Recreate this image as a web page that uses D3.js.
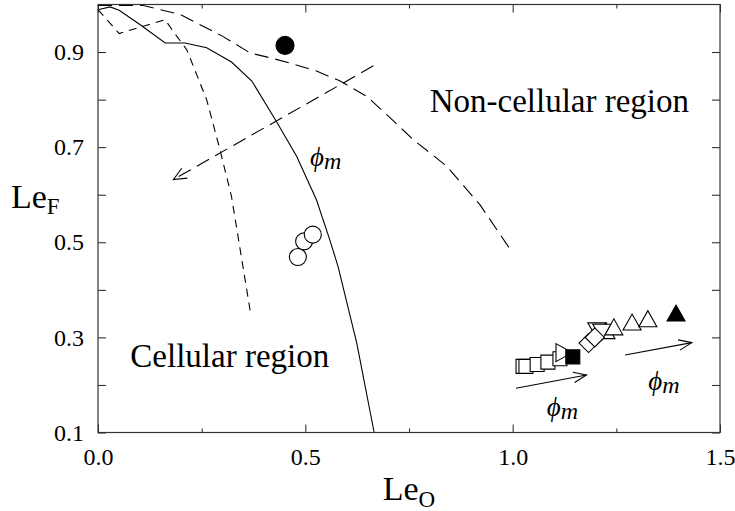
<!DOCTYPE html>
<html>
<head>
<meta charset="utf-8">
<script src="https://cdn.jsdelivr.net/npm/d3@7"></script>
<style>
  body { margin: 0; background: #fff; }
  svg { display: block; }
  text { font-family: "Liberation Serif", "Times New Roman", serif; fill: #000; }
</style>
</head>
<body>
<svg id="chart" width="735" height="511"></svg>
<script>
// ---- Phase-boundary curves (Le_O, Le_F) ----
const boundarySolid = [
  [0.0, 0.989], [0.029, 0.995], [0.051, 0.988], [0.101, 0.958], [0.162, 0.919],
  [0.21, 0.919], [0.262, 0.909], [0.322, 0.879], [0.371, 0.839], [0.431, 0.753],
  [0.479, 0.681], [0.527, 0.589], [0.559, 0.505], [0.579, 0.449], [0.624, 0.288],
  [0.666, 0.1]
];
const boundaryLongDash = [
  [0.0, 0.998], [0.109, 0.998], [0.198, 0.979], [0.301, 0.933], [0.367, 0.898],
  [0.415, 0.888], [0.463, 0.877], [0.527, 0.86], [0.584, 0.839], [0.648, 0.807],
  [0.704, 0.762], [0.76, 0.716], [0.841, 0.66], [0.921, 0.579], [0.998, 0.48]
];
const boundaryShortDash = [
  [0.0, 0.989], [0.051, 0.939], [0.162, 0.968], [0.181, 0.944], [0.214, 0.905],
  [0.262, 0.8], [0.294, 0.695], [0.322, 0.596], [0.369, 0.345]
];

// ---- Simulation points ----
const circlesFilled = [[0.451, 0.914]];
const circlesOpen = [[0.482, 0.469], [0.497, 0.502], [0.518, 0.516]];
const squaresOpen = [[1.025, 0.239], [1.032, 0.239], [1.059, 0.243], [1.085, 0.248], [1.114, 0.255]];
const trianglesRightOpen = [[1.119, 0.268]];
const squaresFilled = [[1.145, 0.259]];
const trianglesDownOpen = [[1.203, 0.318], [1.215, 0.315]];
const diamondsOpen = [[1.183, 0.288], [1.198, 0.300]];
const trianglesUpOpen = [[1.225, 0.31], [1.244, 0.318], [1.288, 0.328], [1.326, 0.335]];
const trianglesUpFilled = [[1.394, 0.347]];

// ---- Arrows showing increasing phi_m: [from, to] ----
const arrowDashed = [[0.664, 0.871], [0.182, 0.632]];
const arrowsSolid = [
  [[1.008, 0.193], [1.178, 0.221]],
  [[1.271, 0.263], [1.432, 0.289]]
];

// ---- Annotations ----
const phiLabels = [[0.511, 0.661], [1.082, 0.135], [1.327, 0.189]];
const regionLabels = [
  { text: "Non-cellular region", pos: [0.8, 0.775] },
  { text: "Cellular region", pos: [0.078, 0.237] }
];

// ---- Ticks ----
const xTicksMajor = [0.0, 0.5, 1.0, 1.5];
const xTicksMinor = [0.25, 0.75, 1.25];
const yTicksAll = [0.1, 0.2, 0.3, 0.4, 0.5, 0.6, 0.7, 0.8, 0.9];
const yTickLabels = [0.1, 0.3, 0.5, 0.7, 0.9];

const svg = d3.select("#chart");
const W = 735, H = 511;
const margin = { left: 98, right: 15, top: 4.5, bottom: 78.5 };
const x = d3.scaleLinear().domain([0, 1.5]).range([margin.left, W - margin.right]);
const y = d3.scaleLinear().domain([0.1, 1.0]).range([H - margin.bottom, margin.top]);

svg.append("clipPath").attr("id", "plot-clip")
  .append("rect")
  .attr("x", x(0)).attr("y", y(1.0))
  .attr("width", x(1.5) - x(0)).attr("height", y(0.1) - y(1.0));

// ---- Axes (inward ticks on all four sides) ----
const fmt = d3.format(".1f");
function styleAxis(g) {
  g.select(".domain").remove();
  g.selectAll(".tick line").attr("stroke", "#222").attr("stroke-width", 1);
  g.selectAll(".tick text").style("font-size", "24px").style("font-family", "Liberation Serif, serif").attr("fill", "#000");
}
svg.append("g").attr("transform", `translate(0,${y(0.1)})`)
  .call(d3.axisBottom(x).tickValues(xTicksMajor).tickSizeInner(-8).tickSizeOuter(0).tickPadding(15).tickFormat(fmt))
  .call(styleAxis);
svg.append("g").attr("transform", `translate(0,${y(0.1)})`)
  .call(d3.axisBottom(x).tickValues(xTicksMinor).tickSizeInner(-4).tickSizeOuter(0).tickFormat(""))
  .call(styleAxis);
svg.append("g").attr("transform", `translate(0,${y(1.0)})`)
  .call(d3.axisTop(x).tickValues(xTicksMajor).tickSizeInner(-8).tickSizeOuter(0).tickFormat(""))
  .call(styleAxis);
svg.append("g").attr("transform", `translate(0,${y(1.0)})`)
  .call(d3.axisTop(x).tickValues(xTicksMinor).tickSizeInner(-4).tickSizeOuter(0).tickFormat(""))
  .call(styleAxis);
svg.append("g").attr("transform", `translate(${x(0)},0)`)
  .call(d3.axisLeft(y).tickValues(yTicksAll).tickSizeInner(-8).tickSizeOuter(0).tickPadding(14)
    .tickFormat(d => yTickLabels.some(v => Math.abs(v - d) < 1e-9) ? fmt(d) : ""))
  .call(styleAxis);
svg.append("g").attr("transform", `translate(${x(1.5)},0)`)
  .call(d3.axisRight(y).tickValues(yTicksAll).tickSizeInner(-8).tickSizeOuter(0).tickFormat(""))
  .call(styleAxis);

// ---- Axis titles ----
const xTitle = svg.append("text").attr("x", (x(0) + x(1.5)) / 2).attr("y", 500)
  .attr("text-anchor", "middle").style("font-size", "34px");
xTitle.append("tspan").text("Le");
xTitle.append("tspan").attr("dy", 7).style("font-size", "23px").text("O");

const yTitle = svg.append("text").attr("x", 11).attr("y", 208)
  .attr("text-anchor", "start").style("font-size", "34px");
yTitle.append("tspan").text("Le");
yTitle.append("tspan").attr("dy", 6).style("font-size", "23px").text("F");

// ---- Curves ----
const line = d3.line().x(d => x(d[0])).y(d => y(d[1]));
const plot = svg.append("g").attr("clip-path", "url(#plot-clip)");
plot.append("path").datum(boundarySolid).attr("d", line)
  .attr("fill", "none").attr("stroke", "#000").attr("stroke-width", 1.1);
plot.append("path").datum(boundaryLongDash).attr("d", line)
  .attr("fill", "none").attr("stroke", "#000").attr("stroke-width", 1.1).attr("stroke-dasharray", "14,7");
plot.append("path").datum(boundaryShortDash).attr("d", line)
  .attr("fill", "none").attr("stroke", "#000").attr("stroke-width", 1.1).attr("stroke-dasharray", "8,6");

// ---- Arrows ----
function arrowHead(g, from, to, len, ang) {
  const x0 = x(from[0]), y0 = y(from[1]), x1 = x(to[0]), y1 = y(to[1]);
  const a = Math.atan2(y0 - y1, x0 - x1);
  const p1 = [x1 + len * Math.cos(a + ang), y1 + len * Math.sin(a + ang)];
  const p2 = [x1 + len * Math.cos(a - ang), y1 + len * Math.sin(a - ang)];
  g.append("path").attr("d", `M${p1[0]},${p1[1]}L${x1},${y1}L${p2[0]},${p2[1]}`)
    .attr("fill", "none").attr("stroke", "#000").attr("stroke-width", 1.1);
}
const arrows = svg.append("g");
arrows.append("path").datum(arrowDashed).attr("d", line)
  .attr("fill", "none").attr("stroke", "#000").attr("stroke-width", 1.1).attr("stroke-dasharray", "14,7");
arrowHead(arrows, arrowDashed[0], arrowDashed[1], 14, 0.42);
arrowsSolid.forEach(a => {
  arrows.append("path").datum(a).attr("d", line)
    .attr("fill", "none").attr("stroke", "#000").attr("stroke-width", 1.1);
  arrowHead(arrows, a[0], a[1], 14, 0.38);
});

// ---- Point symbols ----
const shapes = {
  square: "M-7,-7H7V7H-7Z",
  triUp: "M-9,6H9L0,-10Z",
  triDown: "M-9,-6H9L0,10Z",
  triRight: "M-6,-9V9L10,0Z",
  diamond: "M0,-9.5L9.5,0L0,9.5L-9.5,0Z"
};
const pts = svg.append("g");
function drawShapes(data, shape, filled) {
  pts.selectAll(null).data(data).enter().append("path")
    .attr("d", shapes[shape])
    .attr("transform", d => `translate(${x(d[0])},${y(d[1])})`)
    .attr("fill", filled ? "#000" : "#fff")
    .attr("stroke", "#000").attr("stroke-width", 1.1);
}
function drawCircles(data, r, filled) {
  pts.selectAll(null).data(data).enter().append("circle")
    .attr("cx", d => x(d[0])).attr("cy", d => y(d[1])).attr("r", r)
    .attr("fill", filled ? "#000" : "#fff")
    .attr("stroke", "#000").attr("stroke-width", 1.1);
}
drawCircles(circlesFilled, 9, true);
drawCircles(circlesOpen, 8.5, false);
drawShapes(squaresOpen, "square", false);
drawShapes(trianglesRightOpen, "triRight", false);
drawShapes(squaresFilled, "square", true);
drawShapes(trianglesUpOpen, "triUp", false);
drawShapes(trianglesDownOpen, "triDown", false);
drawShapes(diamondsOpen, "diamond", false);
drawShapes(trianglesUpFilled, "triUp", true);

// ---- Labels ----
regionLabels.forEach(l => {
  svg.append("text").attr("x", x(l.pos[0])).attr("y", y(l.pos[1]))
    .style("font-size", "33px").text(l.text);
});
phiLabels.forEach(p => {
  const t = svg.append("text").attr("x", x(p[0])).attr("y", y(p[1]))
    .style("font-family", "Liberation Serif, DejaVu Serif, serif").style("font-style", "italic");
  t.append("tspan").style("font-size", "27px").text("\u03D5");
  t.append("tspan").attr("dy", 3).style("font-size", "24px").text("m");
});

// ---- Frame ----
svg.append("rect")
  .attr("x", x(0)).attr("y", y(1.0))
  .attr("width", x(1.5) - x(0)).attr("height", y(0.1) - y(1.0))
  .attr("fill", "none").attr("stroke", "#333").attr("stroke-width", 1.2);
</script>
</body>
</html>
